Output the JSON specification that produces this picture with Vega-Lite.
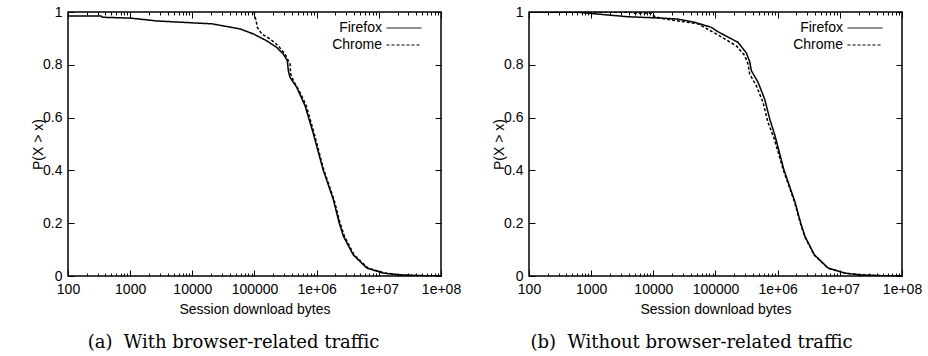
{
  "$schema": "https://vega.github.io/schema/vega-lite/v6.json",
  "background": "white",
  "padding": {"left": 30, "top": 4, "right": 5, "bottom": 5},
  "config": {
    "view": {"stroke": "black", "strokeWidth": 1.5},
    "font": "Liberation Sans",
    "axis": {"domain": false, "grid": false, "tickColor": "black", "tickWidth": 1, "labelColor": "black", "titleColor": "black", "labelFont": "Liberation Sans", "titleFont": "Liberation Sans", "labelFontSize": 14, "titleFontSize": 14, "titleFontWeight": "normal"},
    "legend": {"labelFont": "Liberation Sans", "labelFontSize": 14, "labelColor": "black"},
    "title": {"font": "DejaVu Serif", "fontSize": 18, "fontWeight": "normal", "color": "black"}
  },
  "datasets": {
    "curves": [
      {"panel": "a", "browser": "Firefox", "x": 100, "p": 0.985},
      {"panel": "a", "browser": "Firefox", "x": 340, "p": 0.985},
      {"panel": "a", "browser": "Firefox", "x": 360, "p": 0.980},
      {"panel": "a", "browser": "Firefox", "x": 1000, "p": 0.977},
      {"panel": "a", "browser": "Firefox", "x": 2700, "p": 0.966},
      {"panel": "a", "browser": "Firefox", "x": 21000, "p": 0.955},
      {"panel": "a", "browser": "Firefox", "x": 58400, "p": 0.936},
      {"panel": "a", "browser": "Firefox", "x": 95600, "p": 0.917},
      {"panel": "a", "browser": "Firefox", "x": 157000, "p": 0.891},
      {"panel": "a", "browser": "Firefox", "x": 227000, "p": 0.866},
      {"panel": "a", "browser": "Firefox", "x": 290000, "p": 0.841},
      {"panel": "a", "browser": "Firefox", "x": 337000, "p": 0.816},
      {"panel": "a", "browser": "Firefox", "x": 350000, "p": 0.778},
      {"panel": "a", "browser": "Firefox", "x": 372000, "p": 0.753},
      {"panel": "a", "browser": "Firefox", "x": 477000, "p": 0.715},
      {"panel": "a", "browser": "Firefox", "x": 650000, "p": 0.645},
      {"panel": "a", "browser": "Firefox", "x": 870000, "p": 0.545},
      {"panel": "a", "browser": "Firefox", "x": 1260000, "p": 0.405},
      {"panel": "a", "browser": "Firefox", "x": 1850000, "p": 0.29},
      {"panel": "a", "browser": "Firefox", "x": 2310000, "p": 0.2},
      {"panel": "a", "browser": "Firefox", "x": 2700000, "p": 0.15},
      {"panel": "a", "browser": "Firefox", "x": 3880000, "p": 0.08},
      {"panel": "a", "browser": "Firefox", "x": 6400000, "p": 0.03},
      {"panel": "a", "browser": "Firefox", "x": 11800000, "p": 0.011},
      {"panel": "a", "browser": "Firefox", "x": 21900000, "p": 0.004},
      {"panel": "a", "browser": "Firefox", "x": 50000000, "p": 0.001},
      {"panel": "a", "browser": "Firefox", "x": 100000000, "p": 0},
      {"panel": "a", "browser": "Chrome", "x": 98000, "p": 1.0},
      {"panel": "a", "browser": "Chrome", "x": 106000, "p": 0.967},
      {"panel": "a", "browser": "Chrome", "x": 111000, "p": 0.942},
      {"panel": "a", "browser": "Chrome", "x": 131000, "p": 0.917},
      {"panel": "a", "browser": "Chrome", "x": 178000, "p": 0.898},
      {"panel": "a", "browser": "Chrome", "x": 241000, "p": 0.872},
      {"panel": "a", "browser": "Chrome", "x": 309000, "p": 0.841},
      {"panel": "a", "browser": "Chrome", "x": 372000, "p": 0.803},
      {"panel": "a", "browser": "Chrome", "x": 382000, "p": 0.765},
      {"panel": "a", "browser": "Chrome", "x": 421000, "p": 0.74},
      {"panel": "a", "browser": "Chrome", "x": 539000, "p": 0.696},
      {"panel": "a", "browser": "Chrome", "x": 680000, "p": 0.645},
      {"panel": "a", "browser": "Chrome", "x": 900000, "p": 0.545},
      {"panel": "a", "browser": "Chrome", "x": 1290000, "p": 0.405},
      {"panel": "a", "browser": "Chrome", "x": 1900000, "p": 0.29},
      {"panel": "a", "browser": "Chrome", "x": 2380000, "p": 0.2},
      {"panel": "a", "browser": "Chrome", "x": 2800000, "p": 0.15},
      {"panel": "a", "browser": "Chrome", "x": 4000000, "p": 0.08},
      {"panel": "a", "browser": "Chrome", "x": 6700000, "p": 0.03},
      {"panel": "a", "browser": "Chrome", "x": 12500000, "p": 0.011},
      {"panel": "a", "browser": "Chrome", "x": 24000000, "p": 0.004},
      {"panel": "a", "browser": "Chrome", "x": 60000000, "p": 0.001},
      {"panel": "a", "browser": "Chrome", "x": 100000000, "p": 0},
      {"panel": "b", "browser": "Firefox", "x": 100, "p": 1.0},
      {"panel": "b", "browser": "Firefox", "x": 614, "p": 0.999},
      {"panel": "b", "browser": "Firefox", "x": 1290, "p": 0.992},
      {"panel": "b", "browser": "Firefox", "x": 3910, "p": 0.982},
      {"panel": "b", "browser": "Firefox", "x": 13400, "p": 0.977},
      {"panel": "b", "browser": "Firefox", "x": 24900, "p": 0.973},
      {"panel": "b", "browser": "Firefox", "x": 46200, "p": 0.961},
      {"panel": "b", "browser": "Firefox", "x": 85500, "p": 0.942},
      {"panel": "b", "browser": "Firefox", "x": 110000, "p": 0.925},
      {"panel": "b", "browser": "Firefox", "x": 140000, "p": 0.912},
      {"panel": "b", "browser": "Firefox", "x": 230000, "p": 0.885},
      {"panel": "b", "browser": "Firefox", "x": 313000, "p": 0.845},
      {"panel": "b", "browser": "Firefox", "x": 355000, "p": 0.812},
      {"panel": "b", "browser": "Firefox", "x": 377000, "p": 0.778},
      {"panel": "b", "browser": "Firefox", "x": 483000, "p": 0.734},
      {"panel": "b", "browser": "Firefox", "x": 618000, "p": 0.67},
      {"panel": "b", "browser": "Firefox", "x": 745000, "p": 0.595},
      {"panel": "b", "browser": "Firefox", "x": 910000, "p": 0.53},
      {"panel": "b", "browser": "Firefox", "x": 1250000, "p": 0.405},
      {"panel": "b", "browser": "Firefox", "x": 1900000, "p": 0.28},
      {"panel": "b", "browser": "Firefox", "x": 2350000, "p": 0.2},
      {"panel": "b", "browser": "Firefox", "x": 2750000, "p": 0.15},
      {"panel": "b", "browser": "Firefox", "x": 3900000, "p": 0.08},
      {"panel": "b", "browser": "Firefox", "x": 6500000, "p": 0.03},
      {"panel": "b", "browser": "Firefox", "x": 12000000, "p": 0.011},
      {"panel": "b", "browser": "Firefox", "x": 22000000, "p": 0.004},
      {"panel": "b", "browser": "Firefox", "x": 50000000, "p": 0.001},
      {"panel": "b", "browser": "Firefox", "x": 100000000, "p": 0},
      {"panel": "b", "browser": "Chrome", "x": 100, "p": 1.0},
      {"panel": "b", "browser": "Chrome", "x": 4500, "p": 0.999},
      {"panel": "b", "browser": "Chrome", "x": 5000, "p": 0.995},
      {"panel": "b", "browser": "Chrome", "x": 9500, "p": 0.995},
      {"panel": "b", "browser": "Chrome", "x": 10500, "p": 0.983},
      {"panel": "b", "browser": "Chrome", "x": 13400, "p": 0.976},
      {"panel": "b", "browser": "Chrome", "x": 46200, "p": 0.957},
      {"panel": "b", "browser": "Chrome", "x": 52300, "p": 0.955},
      {"panel": "b", "browser": "Chrome", "x": 110000, "p": 0.913},
      {"panel": "b", "browser": "Chrome", "x": 216000, "p": 0.872},
      {"panel": "b", "browser": "Chrome", "x": 295000, "p": 0.835},
      {"panel": "b", "browser": "Chrome", "x": 333000, "p": 0.803},
      {"panel": "b", "browser": "Chrome", "x": 355000, "p": 0.765},
      {"panel": "b", "browser": "Chrome", "x": 453000, "p": 0.721},
      {"panel": "b", "browser": "Chrome", "x": 581000, "p": 0.658},
      {"panel": "b", "browser": "Chrome", "x": 698000, "p": 0.582},
      {"panel": "b", "browser": "Chrome", "x": 880000, "p": 0.52},
      {"panel": "b", "browser": "Chrome", "x": 1220000, "p": 0.405},
      {"panel": "b", "browser": "Chrome", "x": 1870000, "p": 0.28},
      {"panel": "b", "browser": "Chrome", "x": 2320000, "p": 0.2},
      {"panel": "b", "browser": "Chrome", "x": 2720000, "p": 0.15},
      {"panel": "b", "browser": "Chrome", "x": 3850000, "p": 0.08},
      {"panel": "b", "browser": "Chrome", "x": 6400000, "p": 0.03},
      {"panel": "b", "browser": "Chrome", "x": 12000000, "p": 0.011},
      {"panel": "b", "browser": "Chrome", "x": 22000000, "p": 0.004},
      {"panel": "b", "browser": "Chrome", "x": 50000000, "p": 0.001},
      {"panel": "b", "browser": "Chrome", "x": 100000000, "p": 0}
    ]
  },
  "spacing": 29,
  "hconcat": [
    {
      "width": 373, "height": 264,
      "title": {"text": "(a)\u00a0\u00a0With browser-related traffic", "orient": "bottom", "anchor": "middle", "dx": -21, "offset": 18},
      "data": {"name": "curves"},
      "transform": [{"filter": "datum.panel == 'a'"}],
      "layer": [
        {
          "mark": {"type": "line", "color": "black", "strokeWidth": 1.5, "clip": true},
          "encoding": {
            "x": {"field": "x", "type": "quantitative", "scale": {"type": "log", "domain": [100, 100000000], "nice": false},
              "axis": {"orient": "bottom", "values": [100, 1000, 10000, 100000, 1000000, 10000000, 100000000], "tickSize": -6, "labelPadding": 12, "labelExpr": "datum.value < 1000000 ? format(datum.value, 'd') : '1e+0' + round(log(datum.value) / LN10)", "title": "Session download bytes", "titlePadding": 6, "labelFlush": false}},
            "y": {"field": "p", "type": "quantitative", "scale": {"domain": [0, 1], "nice": false},
              "axis": {"orient": "left", "values": [0, 0.2, 0.4, 0.6, 0.8, 1], "tickSize": -6, "labelPadding": 12, "format": "~g", "title": "P(X > x)", "titlePadding": -3}},
            "strokeDash": {"field": "browser", "type": "nominal", "scale": {"domain": ["Firefox", "Chrome"], "range": [[1, 0], [3, 2]]},
              "legend": {"orient": "none", "legendX": 329, "legendY": 9, "title": null, "padding": 0, "symbolType": "M-5,0H5", "symbolSize": 49, "symbolStrokeWidth": 1, "symbolStrokeColor": "black", "labelAlign": "right", "labelOffset": -29, "rowPadding": 3}}
          }
        },
        {
          "mark": {"type": "line", "opacity": 0},
          "encoding": {
            "x": {"field": "x", "type": "quantitative", "scale": {"type": "log", "domain": [100, 100000000], "nice": false},
              "axis": {"orient": "bottom", "values": [200, 300, 400, 500, 600, 700, 800, 900, 2000, 3000, 4000, 5000, 6000, 7000, 8000, 9000, 20000, 30000, 40000, 50000, 60000, 70000, 80000, 90000, 200000, 300000, 400000, 500000, 600000, 700000, 800000, 900000, 2000000, 3000000, 4000000, 5000000, 6000000, 7000000, 8000000, 9000000, 20000000, 30000000, 40000000, 50000000, 60000000, 70000000, 80000000, 90000000], "tickSize": -3, "labels": false, "title": null}},
            "y": {"field": "p", "type": "quantitative", "scale": {"domain": [0, 1], "nice": false},
              "axis": {"orient": "right", "values": [0, 0.2, 0.4, 0.6, 0.8, 1], "tickSize": -6, "labels": false, "title": null}},
            "detail": {"field": "browser"}
          }
        },
        {
          "mark": {"type": "line", "opacity": 0},
          "encoding": {
            "x": {"field": "x", "type": "quantitative", "scale": {"type": "log", "domain": [100, 100000000], "nice": false},
              "axis": {"orient": "top", "values": [100, 1000, 10000, 100000, 1000000, 10000000, 100000000], "tickSize": -6, "labels": false, "title": null}},
            "y": {"field": "p", "type": "quantitative", "scale": {"domain": [0, 1], "nice": false}, "axis": null},
            "detail": {"field": "browser"}
          }
        },
        {
          "mark": {"type": "line", "opacity": 0},
          "encoding": {
            "x": {"field": "x", "type": "quantitative", "scale": {"type": "log", "domain": [100, 100000000], "nice": false},
              "axis": {"orient": "top", "values": [200, 300, 400, 500, 600, 700, 800, 900, 2000, 3000, 4000, 5000, 6000, 7000, 8000, 9000, 20000, 30000, 40000, 50000, 60000, 70000, 80000, 90000, 200000, 300000, 400000, 500000, 600000, 700000, 800000, 900000, 2000000, 3000000, 4000000, 5000000, 6000000, 7000000, 8000000, 9000000, 20000000, 30000000, 40000000, 50000000, 60000000, 70000000, 80000000, 90000000], "tickSize": -3, "labels": false, "title": null}},
            "y": {"field": "p", "type": "quantitative", "scale": {"domain": [0, 1], "nice": false}, "axis": null},
            "detail": {"field": "browser"}
          }
        }
      ],
      "resolve": {"axis": {"x": "independent", "y": "independent"}}
    },
    {
      "width": 373, "height": 264,
      "title": {"text": "(b)\u00a0\u00a0Without browser-related traffic", "orient": "bottom", "anchor": "middle", "dx": -24, "offset": 18},
      "data": {"name": "curves"},
      "transform": [{"filter": "datum.panel == 'b'"}],
      "layer": [
        {
          "mark": {"type": "line", "color": "black", "strokeWidth": 1.5, "clip": true},
          "encoding": {
            "x": {"field": "x", "type": "quantitative", "scale": {"type": "log", "domain": [100, 100000000], "nice": false},
              "axis": {"orient": "bottom", "values": [100, 1000, 10000, 100000, 1000000, 10000000, 100000000], "tickSize": -6, "labelPadding": 12, "labelExpr": "datum.value < 1000000 ? format(datum.value, 'd') : '1e+0' + round(log(datum.value) / LN10)", "title": "Session download bytes", "titlePadding": 6, "labelFlush": false}},
            "y": {"field": "p", "type": "quantitative", "scale": {"domain": [0, 1], "nice": false},
              "axis": {"orient": "left", "values": [0, 0.2, 0.4, 0.6, 0.8, 1], "tickSize": -6, "labelPadding": 12, "format": "~g", "title": "P(X > x)", "titlePadding": -3}},
            "strokeDash": {"field": "browser", "type": "nominal", "scale": {"domain": ["Firefox", "Chrome"], "range": [[1, 0], [3, 2]]},
              "legend": {"orient": "none", "legendX": 329, "legendY": 9, "title": null, "padding": 0, "symbolType": "M-5,0H5", "symbolSize": 49, "symbolStrokeWidth": 1, "symbolStrokeColor": "black", "labelAlign": "right", "labelOffset": -29, "rowPadding": 3}}
          }
        },
        {
          "mark": {"type": "line", "opacity": 0},
          "encoding": {
            "x": {"field": "x", "type": "quantitative", "scale": {"type": "log", "domain": [100, 100000000], "nice": false},
              "axis": {"orient": "bottom", "values": [200, 300, 400, 500, 600, 700, 800, 900, 2000, 3000, 4000, 5000, 6000, 7000, 8000, 9000, 20000, 30000, 40000, 50000, 60000, 70000, 80000, 90000, 200000, 300000, 400000, 500000, 600000, 700000, 800000, 900000, 2000000, 3000000, 4000000, 5000000, 6000000, 7000000, 8000000, 9000000, 20000000, 30000000, 40000000, 50000000, 60000000, 70000000, 80000000, 90000000], "tickSize": -3, "labels": false, "title": null}},
            "y": {"field": "p", "type": "quantitative", "scale": {"domain": [0, 1], "nice": false},
              "axis": {"orient": "right", "values": [0, 0.2, 0.4, 0.6, 0.8, 1], "tickSize": -6, "labels": false, "title": null}},
            "detail": {"field": "browser"}
          }
        },
        {
          "mark": {"type": "line", "opacity": 0},
          "encoding": {
            "x": {"field": "x", "type": "quantitative", "scale": {"type": "log", "domain": [100, 100000000], "nice": false},
              "axis": {"orient": "top", "values": [100, 1000, 10000, 100000, 1000000, 10000000, 100000000], "tickSize": -6, "labels": false, "title": null}},
            "y": {"field": "p", "type": "quantitative", "scale": {"domain": [0, 1], "nice": false}, "axis": null},
            "detail": {"field": "browser"}
          }
        },
        {
          "mark": {"type": "line", "opacity": 0},
          "encoding": {
            "x": {"field": "x", "type": "quantitative", "scale": {"type": "log", "domain": [100, 100000000], "nice": false},
              "axis": {"orient": "top", "values": [200, 300, 400, 500, 600, 700, 800, 900, 2000, 3000, 4000, 5000, 6000, 7000, 8000, 9000, 20000, 30000, 40000, 50000, 60000, 70000, 80000, 90000, 200000, 300000, 400000, 500000, 600000, 700000, 800000, 900000, 2000000, 3000000, 4000000, 5000000, 6000000, 7000000, 8000000, 9000000, 20000000, 30000000, 40000000, 50000000, 60000000, 70000000, 80000000, 90000000], "tickSize": -3, "labels": false, "title": null}},
            "y": {"field": "p", "type": "quantitative", "scale": {"domain": [0, 1], "nice": false}, "axis": null},
            "detail": {"field": "browser"}
          }
        }
      ],
      "resolve": {"axis": {"x": "independent", "y": "independent"}}
    }
  ],
  "resolve": {"scale": {"strokeDash": "independent"}, "legend": {"strokeDash": "independent"}}
}
